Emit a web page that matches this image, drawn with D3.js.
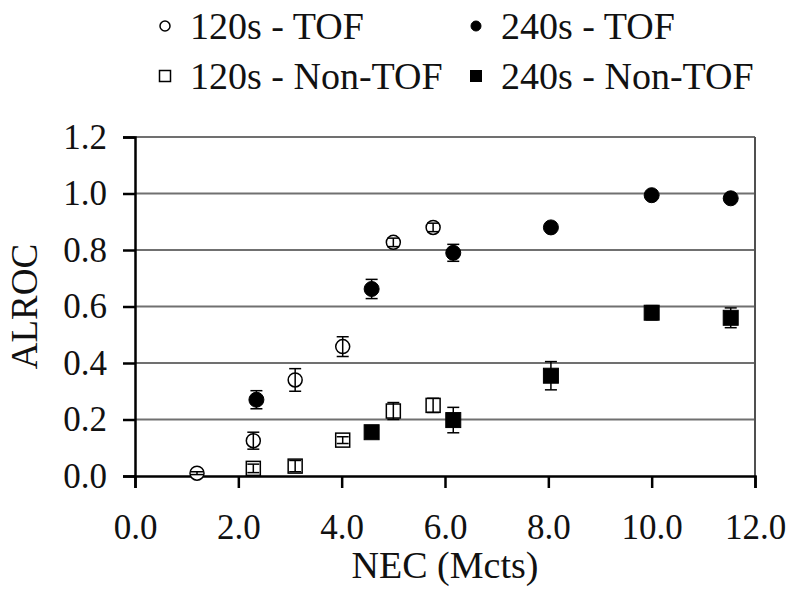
<!DOCTYPE html>
<html><head><meta charset="utf-8">
<script src="https://cdn.jsdelivr.net/npm/d3@7"></script>
<style>body{margin:0;background:#fff}svg{display:block}</style>
</head><body>
<svg id="chart" width="800" height="599"></svg>
<script>
// ---- data ----
const nec120 = [1.2, 2.29, 3.1, 4.02, 5.0, 5.77];
const nec240 = [2.35, 4.58, 6.16, 8.05, 10.0, 11.53];
const tof120 = [0.01, 0.125, 0.34, 0.458, 0.827, 0.88];
const tof120Err = [0.005, 0.03, 0.04, 0.035, 0.015, 0.015];
const tof240 = [0.27, 0.662, 0.79, 0.88, 0.994, 0.983];
const tof240Err = [0.032, 0.034, 0.03, 0.01, 0.01, 0.01];
const nonTof120X = [2.29, 3.1, 4.02, 5.0, 5.77];
const nonTof120 = [0.027, 0.035, 0.127, 0.23, 0.25];
const nonTof120Err = [0.015, 0.02, 0.012, 0.03, 0.025];
const nonTof240X = [4.58, 6.16, 8.05, 10.0, 11.53];
const nonTof240 = [0.155, 0.198, 0.355, 0.578, 0.56];
const nonTof240Err = [0.02, 0.045, 0.05, 0.025, 0.035];
const xTicks = [0, 2, 4, 6, 8, 10, 12];
const yTicks = [0, 0.2, 0.4, 0.6, 0.8, 1.0, 1.2];
const seriesNames = ["120s - TOF", "240s - TOF", "120s - Non-TOF", "240s - Non-TOF"];

const series = [
  {name: seriesNames[0], xs: nec120, ys: tof120, es: tof120Err, shape: "circle", filled: false},
  {name: seriesNames[1], xs: nec240, ys: tof240, es: tof240Err, shape: "circle", filled: true},
  {name: seriesNames[2], xs: nonTof120X, ys: nonTof120, es: nonTof120Err, shape: "square", filled: false},
  {name: seriesNames[3], xs: nonTof240X, ys: nonTof240, es: nonTof240Err, shape: "square", filled: true}
];

const svg = d3.select("#chart");
const font = "'Liberation Serif','Times New Roman',serif";
const x = d3.scaleLinear().domain([0, 12]).range([135, 755]);
const y = d3.scaleLinear().domain([0, 1.2]).range([476, 137]);

// gridlines
svg.append("g").selectAll("line").data(yTicks.filter(d => d > 0)).join("line")
  .attr("x1", x(0)).attr("x2", x(12))
  .attr("y1", d => y(d)).attr("y2", d => y(d))
  .attr("stroke", "#707070").attr("stroke-width", 2);
// right border
svg.append("line").attr("x1", x(12)).attr("x2", x(12)).attr("y1", y(1.2)).attr("y2", y(0))
  .attr("stroke", "#505050").attr("stroke-width", 2);

// axes
const xAxis = svg.append("g").attr("transform", `translate(0,${y(0)})`)
  .call(d3.axisBottom(x).tickValues(xTicks).tickFormat(d3.format(".1f")).tickSize(12).tickPadding(26));
const yAxis = svg.append("g").attr("transform", `translate(${x(0)},0)`)
  .call(d3.axisLeft(y).tickValues(yTicks).tickFormat(d3.format(".1f")).tickSize(12).tickPadding(16));
[xAxis, yAxis].forEach(g => {
  g.select(".domain").attr("stroke", "#000").attr("stroke-width", 2.5);
  g.selectAll(".tick line").attr("stroke", "#000").attr("stroke-width", 2.5);
  g.selectAll(".tick text").attr("font-family", font).attr("font-size", 35).attr("fill", "#111");
});

// axis titles
svg.append("text").attr("x", x(6)).attr("y", 578).attr("text-anchor", "middle")
  .attr("font-family", font).attr("font-size", 38).attr("fill", "#111").text("NEC (Mcts)");
svg.append("text").attr("transform", `translate(37,${y(0.6)}) rotate(-90)`).attr("text-anchor", "middle")
  .attr("font-family", font).attr("font-size", 37).attr("fill", "#111").text("ALROC");

// marker drawing
function marker(g, shape, filled, cx, cy, size) {
  if (shape === "circle") {
    g.append("circle").attr("cx", cx).attr("cy", cy).attr("r", size / 2)
      .attr("fill", filled ? "#000" : "#fff").attr("stroke", "#000").attr("stroke-width", filled ? 1 : 1.5);
  } else {
    g.append("rect").attr("x", cx - size / 2).attr("y", cy - size / 2).attr("width", size).attr("height", size)
      .attr("fill", filled ? "#000" : "#fff").attr("stroke", "#000").attr("stroke-width", filled ? 1 : 1.5);
  }
}

const pts = svg.append("g");
series.forEach(s => {
  s.xs.forEach((xv, i) => {
    const g = pts.append("g");
    const cx = x(xv), cy = y(s.ys[i]);
    marker(g, s.shape, s.filled, cx, cy, s.filled ? 15 : 14);
    const y1 = y(s.ys[i] + s.es[i]), y2 = y(s.ys[i] - s.es[i]);
    g.append("line").attr("x1", cx).attr("x2", cx).attr("y1", y1).attr("y2", y2)
      .attr("stroke", "#000").attr("stroke-width", 1.5);
    [y1, y2].forEach(yy => g.append("line").attr("x1", cx - 6).attr("x2", cx + 6)
      .attr("y1", yy).attr("y2", yy).attr("stroke", "#000").attr("stroke-width", 1.5));
  });
});

// legend
const legendPos = [[165, 26], [476, 26], [165, 76], [476, 76]];
series.forEach((s, i) => {
  const [lx, ly] = legendPos[i];
  const g = svg.append("g");
  marker(g, s.shape, s.filled, lx, ly, s.shape === "circle" ? 10 : 11);
  g.append("text").attr("x", lx + 25).attr("y", ly + 13).attr("font-family", font)
    .attr("font-size", 38).attr("fill", "#111").text(s.name);
});
</script>
</body></html>
